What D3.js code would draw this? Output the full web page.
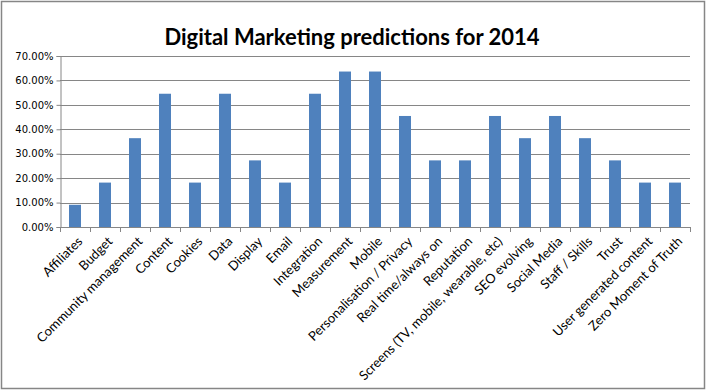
<!DOCTYPE html>
<html>
<head>
<meta charset="utf-8">
<script src="https://cdn.jsdelivr.net/npm/d3@7"></script>
<style>
  body { margin: 0; background: #fff; }
  svg { display: block; }
</style>
</head>
<body>
<div id="chart"></div>
<script>
// categories and values (shares of respondents)
var categories = ["Affiliates", "Budget", "Community management", "Content", "Cookies", "Data",
  "Display", "Email", "Integration", "Measurement", "Mobile", "Personalisation / Privacy",
  "Real time/always on", "Reputation", "Screens (TV, mobile, wearable, etc)", "SEO evolving",
  "Social Media", "Staff / Skills", "Trust", "User generated content", "Zero Moment of Truth"];
var values = [0.0909, 0.1818, 0.3636, 0.5455, 0.1818, 0.5455,
  0.2727, 0.1818, 0.5455, 0.6364, 0.6364, 0.4545,
  0.2727, 0.2727, 0.4545, 0.3636,
  0.4545, 0.3636, 0.2727, 0.1818, 0.1818];
var yTicks = [0, 0.1, 0.2, 0.3, 0.4, 0.5, 0.6, 0.7];
var title = "Digital Marketing predictions for 2014";

var width = 707, height = 391;
var plot = {left: 60, right: 690, top: 56, bottom: 227};

var svg = d3.select("#chart").append("svg")
  .attr("width", width)
  .attr("height", height);

// chart frame
svg.append("rect")
  .attr("x", 1.5).attr("y", 1.5)
  .attr("width", width - 4).attr("height", height - 4)
  .attr("fill", "#fff")
  .attr("stroke", "#868686")
  .attr("stroke-width", 1.5);

svg.append("text")
  .attr("x", 352).attr("y", 45)
  .attr("text-anchor", "middle")
  .style("font-family", "Lato, 'Open Sans', sans-serif")
  .style("font-weight", "bold")
  .style("font-size", "22px")
  .attr("fill", "#000")
  .text(title);

var x = d3.scaleBand()
  .domain(categories)
  .range([plot.left, plot.right])
  .paddingInner(0.6)
  .paddingOuter(0.3);

var y = d3.scaleLinear()
  .domain([0, 0.7])
  .range([plot.bottom, plot.top]);

// gridlines
svg.append("g")
  .selectAll("line")
  .data(yTicks.slice(1))
  .enter()
  .append("line")
    .attr("x1", plot.left).attr("x2", plot.right)
    .attr("y1", d => Math.round(y(d)) + 0.5)
    .attr("y2", d => Math.round(y(d)) + 0.5)
    .attr("stroke", "#868686");

// bars
svg.append("g")
  .selectAll("rect")
  .data(values)
  .enter()
  .append("rect")
    .attr("x", (d, i) => x(categories[i]))
    .attr("y", d => y(d))
    .attr("width", x.bandwidth())
    .attr("height", d => y(0) - y(d))
    .attr("fill", "#4F81BD");

// y axis
var yAxis = svg.append("g")
  .attr("transform", `translate(${plot.left + 0.5},0)`)
  .call(d3.axisLeft(y).tickValues(yTicks).tickFormat(d3.format(".2%")).tickSize(4).tickPadding(3));
yAxis.select(".domain").attr("stroke", "#868686");
yAxis.selectAll(".tick line").attr("stroke", "#868686");
yAxis.selectAll(".tick text")
  .style("font-family", "'DejaVu Sans', sans-serif")
  .style("font-size", "10px")
  .attr("fill", "#000");

// x axis: baseline with ticks on category boundaries
var step = x.step();
var xg = svg.append("g");
xg.append("line")
  .attr("x1", plot.left).attr("x2", plot.right)
  .attr("y1", Math.round(y(0)) + 0.5).attr("y2", Math.round(y(0)) + 0.5)
  .attr("stroke", "#868686");
xg.selectAll("line.tk")
  .data(d3.range(categories.length + 1))
  .enter()
  .append("line")
    .attr("class", "tk")
    .attr("x1", i => Math.round(plot.left + i * step) + 0.5)
    .attr("x2", i => Math.round(plot.left + i * step) + 0.5)
    .attr("y1", Math.round(y(0)))
    .attr("y2", Math.round(y(0)) + 5)
    .attr("stroke", "#868686");

xg.selectAll("text")
  .data(categories)
  .enter()
  .append("text")
    .attr("transform", d => `translate(${x(d) + x.bandwidth() / 2 + 5},${y(0) + 12}) rotate(-45)`)
    .attr("text-anchor", "end")
    .attr("dy", "0.35em")
    .style("font-family", "Lato, 'Open Sans', sans-serif")
    .style("font-size", "13px")
    .attr("fill", "#000")
    .text(d => d);
</script>
</body>
</html>
